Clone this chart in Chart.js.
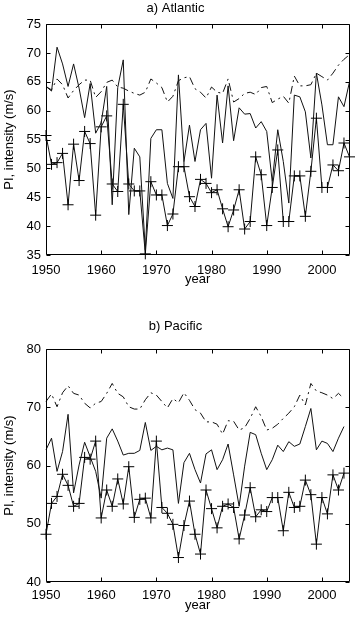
<!DOCTYPE html>
<html><head><meta charset="utf-8">
<script src="https://cdn.jsdelivr.net/npm/chart.js@4.4.1/dist/chart.umd.min.js"></script>
<style>
html,body{margin:0;padding:0;background:#fff;}
canvas{position:absolute;left:0;}
#ca{top:0;}
#cb{top:292px;}
</style></head><body>
<canvas id="ca" width="356" height="292"></canvas>
<canvas id="cb" width="356" height="333"></canvas>
<script>
// ---------- data ----------
const yearsA = [1950,1951,1952,1953,1954,1955,1956,1957,1958,1959,1960,1961,1962,1963,1964,1965,1966,1967,1968,1969,1970,1971,1972,1973,1974,1975,1976,1977,1978,1979,1980,1981,1982,1983,1984,1985,1986,1987,1988,1989,1990,1991,1992,1993,1994,1995,1996,1997,1998,1999,2000,2001,2002,2003,2004,2005];
const yearsB = [1950,1951,1952,1953,1954,1955,1956,1957,1958,1959,1960,1961,1962,1963,1964,1965,1966,1967,1968,1969,1970,1971,1972,1973,1974,1975,1976,1977,1978,1979,1980,1981,1982,1983,1984,1985,1986,1987,1988,1989,1990,1991,1992,1993,1994,1995,1996,1997,1998,1999,2000,2001,2002,2003,2004];

// Atlantic
const atlDashDot = [64.2,63.6,65.5,64.5,62.2,63.5,64.5,65.3,65.3,62.3,63.3,64.9,65.3,64.1,63.9,63.4,63.0,62.7,63.2,65.5,64.8,64.0,61.5,62.5,65.2,65.7,65.9,63.8,63.2,62.2,64.1,63.2,63.0,65.5,61.5,62.1,63.0,63.2,62.8,64.0,64.2,61.4,62.0,62.5,61.3,66.0,64.3,64.3,64.5,66.5,65.9,65.3,66.5,67.9,68.9,69.7];
const atlSolid = [64.2,63.4,71.0,68.1,64.2,68.1,63.9,58.8,64.7,56.1,57.9,64.2,43.7,64.0,68.8,42.0,53.5,52.0,35.9,55.2,56.7,56.7,47.4,44.8,66.2,51.2,57.5,51.2,56.7,57.8,48.3,62.7,54.4,64.3,54.8,60.5,59.4,59.5,57.0,58.1,56.4,47.7,56.7,51.2,44.0,62.7,62.4,59.8,51.8,66.5,61.0,54.1,54.1,62.4,60.7,65.0];
const atlPlus = [55.7,50.7,51.0,52.6,43.7,54.2,47.9,56.4,54.3,41.9,57.2,59.1,47.3,46.0,61.1,47.3,46.1,46.1,35.2,47.7,45.4,45.4,40.1,42.1,50.3,50.3,45.1,43.4,48.1,47.4,45.8,46.3,43.0,39.9,42.8,46.3,39.5,40.8,52.0,48.9,40.1,46.7,53.2,40.8,40.8,48.7,48.7,41.7,49.5,58.7,46.7,46.7,50.6,49.6,54.4,52.0];

// Pacific
const pacDashDot = [71.0,72.3,70.1,72.5,73.7,72.4,72.1,70.7,69.9,70.7,71.0,72.4,74.1,72.4,71.8,70.1,69.7,69.7,71.3,72.5,72.1,71.0,69.9,71.5,70.8,72.5,71.2,69.6,69.0,67.5,67.5,67.1,65.4,67.7,67.6,66.1,66.5,68.1,70.1,68.4,66.1,66.4,67.1,68.1,69.0,70.1,72.1,70.4,74.1,72.8,72.5,72.1,71.5,72.4,71.5];
const pacSolid = [62.7,64.7,59.0,62.4,68.8,55.3,60.1,64.0,61.5,59.0,54.4,64.7,66.3,64.2,61.8,62.1,62.1,62.6,67.4,62.6,63.3,62.7,63.0,62.7,53.5,60.5,62.1,59.3,57.0,62.0,62.7,59.3,61.0,63.7,58.4,53.0,59.9,65.7,65.3,62.1,59.3,61.0,63.5,62.4,64.1,63.3,63.7,66.7,69.8,62.7,64.2,63.8,62.4,64.7,66.7];
const pacPlus = [48.2,53.5,54.7,58.5,56.6,53.0,53.5,61.4,61.1,64.2,51.0,55.8,53.0,57.7,53.4,59.8,51.1,54.2,54.4,51.0,64.2,52.8,51.8,49.9,44.2,49.7,53.9,48.2,44.8,55.8,52.6,49.3,53.0,53.4,52.8,47.4,51.5,56.2,51.2,52.4,52.1,54.5,54.5,48.8,55.4,52.8,53.0,57.5,55.0,46.5,54.5,51.7,58.4,55.8,58.7];

// ticks
const xTicks = [1950,1960,1970,1980,1990,2000];
const yTicksA = [35,40,45,50,55,60,65,70,75];
const yTicksB = [40,50,60,70,80];

const titleA = 'a) Atlantic';
const titleB = 'b) Pacific';
const xLabel = 'year';
const yLabel = 'PI, intensity (m/s)';

// ---------- drawing ----------
const FONT = {family: '"Liberation Sans", Arial, Helvetica, sans-serif', size: 13};

const frameTicks = {
  id: 'frameTicks',
  afterDraw(chart) {
    const {ctx, chartArea: a, scales: {x, y}} = chart;
    const L = 4;
    const l = Math.round(a.left) + 0.5, r = Math.round(a.right) - 0.5;
    const t = Math.round(a.top) + 0.5, b = Math.round(a.bottom) - 0.5;
    ctx.save();
    ctx.strokeStyle = '#000';
    ctx.lineWidth = 1;
    ctx.beginPath();
    ctx.moveTo(l, t); ctx.lineTo(r, t); ctx.lineTo(r, b); ctx.lineTo(l, b); ctx.closePath();
    x.ticks.forEach(tk => {
      const px = Math.round(x.getPixelForValue(tk.value)) + 0.5;
      ctx.moveTo(px, b); ctx.lineTo(px, b - L);
      ctx.moveTo(px, t); ctx.lineTo(px, t + L);
    });
    y.ticks.forEach(tk => {
      const py = Math.round(y.getPixelForValue(tk.value)) + 0.5;
      ctx.moveTo(l, py); ctx.lineTo(l + L, py);
      ctx.moveTo(r, py); ctx.lineTo(r - L, py);
    });
    ctx.stroke();
    ctx.restore();
  }
};

function pts(xs, ys) { return ys.map((v, i) => ({x: xs[i], y: v})); }

function makeChart(id, years, dd, solid, plus, yTicks, yMin, yMax, title, tPad, xH, xTickPad, xTitlePadBottom) {
  return new Chart(document.getElementById(id), {
    type: 'line',
    data: {
      datasets: [
        {data: pts(years, dd), borderColor: '#111', borderWidth: 1, borderDash: [8, 4, 2, 4], pointRadius: 0, tension: 0, clip: false},
        {data: pts(years, solid), borderColor: '#111', borderWidth: 1, pointRadius: 0, tension: 0, clip: false},
        {data: pts(years, plus), borderColor: '#111', borderWidth: 1, pointStyle: 'cross', pointRadius: 5.5, pointBorderWidth: 1, pointBorderColor: '#000', tension: 0, clip: false}
      ]
    },
    options: {
      responsive: false,
      animation: false,
      devicePixelRatio: 1,
      layout: {padding: {left: 0, right: 5, top: 0, bottom: 0}},
      plugins: {
        legend: {display: false},
        tooltip: {enabled: false},
        title: {display: true, text: title, color: '#000', font: {...FONT, weight: 'normal'}, padding: tPad}
      },
      scales: {
        x: {
          type: 'linear', min: 1950, max: 2005,
          grid: {display: false, drawTicks: false},
          border: {display: false},
          afterBuildTicks: s => { s.ticks = xTicks.map(v => ({value: v})); },
          afterFit: s => { s.height = xH; },
          ticks: {color: '#000', font: FONT, padding: xTickPad, maxRotation: 0, callback: v => String(v)},
          title: {display: true, text: xLabel, color: '#000', font: FONT, padding: {top: 0, bottom: xTitlePadBottom}}
        },
        y: {
          min: yMin, max: yMax,
          grid: {display: false, drawTicks: false},
          border: {display: false},
          afterBuildTicks: s => { s.ticks = yTicks.map(v => ({value: v})); },
          afterFit: s => { s.width = 46; },
          ticks: {color: '#000', font: FONT, padding: 5, callback: v => String(v)},
          title: {display: true, text: yLabel, color: '#000', font: FONT, padding: {top: 2, bottom: 0}}
        }
      }
    },
    plugins: [frameTicks]
  });
}

makeChart('ca', yearsA, atlDashDot, atlSolid, atlPlus, yTicksA, 35, 75, titleA, {top: 0.5, bottom: 8}, 37, 8, 4.5);
makeChart('cb', yearsB, pacDashDot, pacSolid, pacPlus, yTicksB, 40, 80, titleB, {top: 27, bottom: 14.5}, 43, 6, 11.5);
</script>
</body></html>
